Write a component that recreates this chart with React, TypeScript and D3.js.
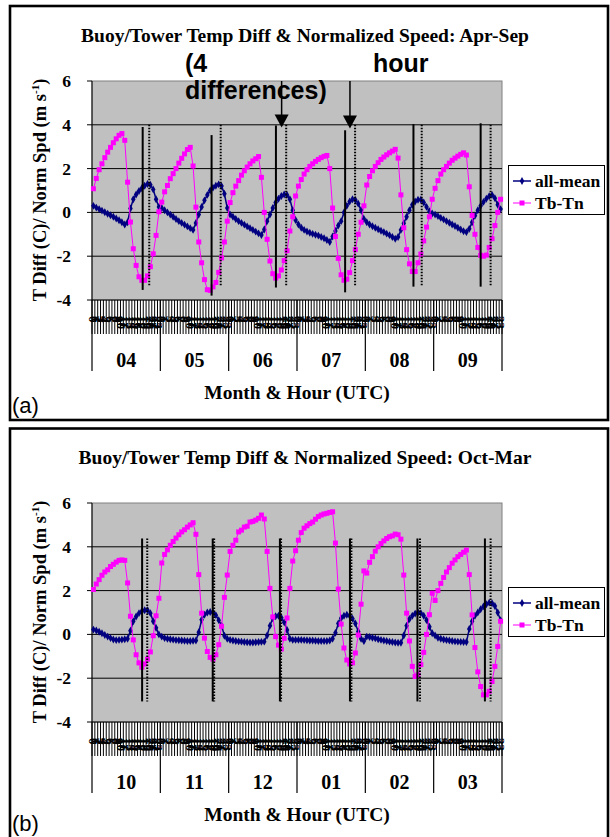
import React, { useEffect, useRef } from 'react';
import * as d3 from 'd3';

const hours = d3.range(24);
const monthsA = ['04', '05', '06', '07', '08', '09'];
const monthsB = ['10', '11', '12', '01', '02', '03'];
const yTicks = [-4, -2, 0, 2, 4, 6];

// all-mean (normalized speed), 24 hourly values per month
const meanA = [
  0.3, 0.22, 0.15, 0.08, 0.01, -0.06, -0.13, -0.2, -0.28, -0.36, -0.45, -0.55, -0.45, 0.18, 0.6, 0.82, 0.98, 1.1, 1.22, 1.3, 1.26, 1.05, 0.6, 0.25,
  0.2, 0.1, 0.0, -0.1, -0.2, -0.3, -0.4, -0.48, -0.56, -0.64, -0.72, -0.8, -0.48, -0.1, 0.25, 0.55, 0.8, 1.0, 1.13, 1.22, 1.28, 1.2, 0.85, 0.2,
  -0.1, -0.2, -0.3, -0.4, -0.48, -0.56, -0.64, -0.72, -0.8, -0.88, -0.96, -1.03, -0.78, -0.4, -0.1, 0.2, 0.45, 0.62, 0.75, 0.82, 0.8, 0.6, 0.1, -0.35,
  -0.55, -0.7, -0.8, -0.87, -0.93, -0.98, -1.02, -1.06, -1.12, -1.18, -1.26, -1.35, -1.1, -0.85, -0.6, -0.4, 0.0, 0.3, 0.5, 0.6, 0.57, 0.4, 0.1, -0.3,
  -0.45, -0.55, -0.63, -0.7, -0.77, -0.84, -0.9, -0.97, -1.04, -1.12, -1.2, -1.12, -0.8, -0.5, -0.2, 0.1, 0.35, 0.5, 0.58, 0.58, 0.45, 0.25, 0.05, -0.05,
  -0.1, -0.17, -0.25, -0.32, -0.4, -0.47, -0.55, -0.62, -0.7, -0.78, -0.86, -0.9, -0.75, -0.45, -0.15, 0.1, 0.3, 0.48, 0.62, 0.74, 0.8, 0.65, 0.35, 0.15,
];

// Tb-Tn (buoy minus tower temp), Apr-Sep
const diffA = [
  1.08, 1.55, 1.95, 2.22, 2.5, 2.75, 2.97, 3.18, 3.36, 3.52, 3.6, 3.29, 1.38, -0.44, -1.66, -2.42, -2.94, -3.1, -3.1, -2.9, -2.48, -1.89, -1.05, 0.03,
  0.47, 0.94, 1.23, 1.54, 1.77, 2.0, 2.25, 2.47, 2.67, 2.87, 2.97, 2.12, 0.24, -1.35, -2.3, -3.07, -3.53, -3.56, -3.4, -3.2, -2.74, -2.08, -1.35, -0.4,
  0.45, 0.9, 1.2, 1.45, 1.7, 1.9, 2.07, 2.22, 2.35, 2.45, 2.55, 1.6, 0.0, -1.23, -2.22, -2.8, -3.0, -2.9, -2.63, -2.2, -1.75, -0.85, -0.2, 0.75,
  1.2, 1.5, 1.75, 1.95, 2.1, 2.22, 2.33, 2.42, 2.5, 2.56, 2.6, 2.0, 0.2, -1.1, -2.1, -2.85, -3.1, -3.05, -2.75, -2.2, -1.7, -1.0, -0.45, 0.3,
  1.25, 1.64, 1.9, 2.1, 2.27, 2.42, 2.53, 2.63, 2.72, 2.8, 2.88, 2.48, 0.8, -0.7, -1.7, -2.35, -2.7, -2.7, -2.3, -1.9, -1.3, -0.67, -0.2, 0.6,
  1.1, 1.45, 1.75, 1.95, 2.1, 2.25, 2.38, 2.48, 2.57, 2.65, 2.72, 2.62, 1.17, -0.14, -1.0, -1.6, -1.96, -2.0, -1.95, -1.6, -1.2, -0.6, 0.0, 0.6,
];

const meanB = [
  0.22, 0.18, 0.12, 0.05, -0.03, -0.1, -0.17, -0.23, -0.26, -0.25, -0.24, -0.22, -0.2, 0.17, 0.6, 0.82, 0.97, 1.06, 1.1, 1.1, 0.97, 0.6, 0.3, 0.0,
  -0.1, -0.17, -0.2, -0.22, -0.24, -0.26, -0.27, -0.28, -0.29, -0.3, -0.3, -0.29, -0.28, 0.1, 0.67, 0.9, 1.0, 1.02, 1.0, 0.88, 0.65, 0.4, -0.06, -0.2,
  -0.25, -0.28, -0.3, -0.32, -0.33, -0.35, -0.36, -0.37, -0.37, -0.36, -0.35, -0.34, -0.33, -0.05, 0.4, 0.74, 0.83, 0.85, 0.76, 0.55, 0.2, -0.2, -0.25, -0.25,
  -0.25, -0.25, -0.26, -0.27, -0.28, -0.28, -0.29, -0.3, -0.3, -0.3, -0.3, -0.28, -0.2, 0.07, 0.5, 0.74, 0.85, 0.9, 0.85, 0.72, 0.5, 0.13, -0.2, -0.3,
  -0.1, -0.12, -0.15, -0.18, -0.22, -0.25, -0.28, -0.3, -0.33, -0.35, -0.37, -0.38, -0.38, -0.05, 0.4, 0.7, 0.85, 0.95, 1.0, 0.97, 0.85, 0.65, 0.35, 0.05,
  -0.05, -0.15, -0.2, -0.23, -0.26, -0.28, -0.3, -0.32, -0.33, -0.34, -0.35, -0.35, 0.25, 0.6, 0.85, 1.0, 1.15, 1.28, 1.38, 1.45, 1.42, 1.3, 1.0, 0.65,
];

const diffB = [
  2.05, 2.3, 2.5, 2.7, 2.85, 2.95, 3.1, 3.2, 3.3, 3.38, 3.4, 3.38, 2.35, 0.83, -0.25, -0.93, -1.3, -1.5, -1.35, -1.13, -0.8, -0.06, 0.85, 1.65,
  3.26, 3.65, 3.86, 4.07, 4.24, 4.4, 4.55, 4.68, 4.78, 4.9, 5.0, 5.1, 4.57, 2.73, 0.97, -0.17, -0.78, -1.05, -1.13, -0.93, -0.47, 0.37, 1.69, 2.71,
  3.79, 4.07, 4.3, 4.68, 4.76, 4.9, 4.94, 5.13, 5.16, 5.22, 5.3, 5.45, 5.27, 3.79, 2.1, 0.8, -0.1, -0.49, -0.67, -0.18, 0.75, 2.1, 3.35, 3.82,
  4.3, 4.65, 4.85, 4.96, 5.06, 5.13, 5.26, 5.38, 5.45, 5.5, 5.53, 5.57, 5.6, 4.17, 2.07, 0.47, -0.62, -1.17, -1.35, -1.3, -0.85, -0.03, 1.38, 2.9,
  2.8, 3.29, 3.55, 3.8, 4.0, 4.15, 4.27, 4.38, 4.46, 4.5, 4.58, 4.55, 4.35, 2.71, 0.97, -0.3, -1.46, -1.92, -1.85, -1.38, -0.82, 0.0, 0.9, 1.88,
  1.55, 2.0, 2.33, 2.6, 2.85, 3.05, 3.25, 3.4, 3.55, 3.65, 3.75, 3.85, 2.73, 0.89, -0.6, -1.71, -2.38, -2.76, -2.76, -2.6, -2.15, -1.46, -0.55, 0.6,
];

// hand-drawn marker lines (position in category units, y range in data units)
const solidA = [
  { pos: 17.8, top: 3.9, bot: -3.54 }, { pos: 42.0, top: 3.53, bot: -3.8 }, { pos: 64.6, top: 3.97, bot: -3.43 },
  { pos: 88.9, top: 3.75, bot: -3.65 }, { pos: 112.9, top: 4.03, bot: -3.39 }, { pos: 136.5, top: 4.07, bot: -3.39 },
];
const dottedA = [
  { pos: 20.1, top: 4.0, bot: -3.38 }, { pos: 45.2, top: 4.0, bot: -3.38 }, { pos: 68.2, top: 4.0, bot: -3.38 },
  { pos: 92.4, top: 4.0, bot: -3.38 }, { pos: 115.8, top: 4.0, bot: -3.38 }, { pos: 140.0, top: 4.0, bot: -3.38 },
];
const solidB = [
  { pos: 17.6, top: 4.38, bot: -3.06 }, { pos: 42.4, top: 4.38, bot: -3.06 }, { pos: 66.0, top: 4.38, bot: -3.06 },
  { pos: 90.6, top: 4.38, bot: -3.06 }, { pos: 114.3, top: 4.38, bot: -3.06 }, { pos: 138.0, top: 4.38, bot: -3.06 },
];
const dottedB = [
  { pos: 19.4, top: 4.38, bot: -3.06 }, { pos: 42.9, top: 4.38, bot: -3.06 }, { pos: 66.4, top: 4.38, bot: -3.06 },
  { pos: 91.1, top: 4.38, bot: -3.06 }, { pos: 115.2, top: 4.38, bot: -3.06 }, { pos: 140.0, top: 4.38, bot: -3.06 },
];
const arrowsA = [{ pos: 66.6, tip: 3.88 }, { pos: 90.6, tip: 3.83 }];

const SERIF = '"Liberation Serif", "Times New Roman", serif';
const SANS = '"Liberation Sans", Arial, sans-serif';
const NAVY = '#000080';
const MAGENTA = '#ff00ff';

function drawPanel(svg, o) {
  const g = svg.append('g').attr('transform', `translate(0,${o.dy})`);
  const n = o.months.length * 24;
  const x = d3.scaleLinear().domain([0, n]).range([92, 502]);
  const y = d3.scaleLinear().domain([-4, 6]).range([300, 81]);

  // frame
  g.append('rect').attr('x', 10).attr('y', o.frameTop).attr('width', 598).attr('height', o.frameH)
    .attr('fill', 'white').attr('stroke', 'black').attr('stroke-width', 2.6);

  g.append('text').attr('x', 305).attr('y', 42).attr('text-anchor', 'middle')
    .style('font-family', SERIF).style('font-weight', 'bold').style('font-size', '19.5px')
    .text(o.title);

  g.append('rect').attr('x', 92).attr('y', y(6)).attr('width', 410).attr('height', y(-4) - y(6))
    .attr('fill', '#c0c0c0').attr('stroke', '#808080').attr('stroke-width', 1);

  g.selectAll('.grid').data(yTicks.filter(t => t > -4 && t < 6)).enter().append('line')
    .attr('x1', 92).attr('x2', 502).attr('y1', d => y(d)).attr('y2', d => y(d))
    .attr('stroke', 'black').attr('stroke-width', 1);

  // y axis
  g.append('line').attr('x1', 92).attr('x2', 92).attr('y1', y(6)).attr('y2', y(-4)).attr('stroke', 'black');
  g.selectAll('.ytick').data(yTicks).enter().append('line')
    .attr('x1', 87).attr('x2', 92).attr('y1', d => y(d)).attr('y2', d => y(d)).attr('stroke', 'black');
  g.selectAll('.ylab').data(yTicks).enter().append('text')
    .attr('x', 71).attr('y', d => y(d) + 6).attr('text-anchor', 'end')
    .style('font-family', SERIF).style('font-weight', 'bold').style('font-size', '17.5px')
    .text(d => d);

  const yl = g.append('text').attr('transform', 'translate(46,190) rotate(-90)').attr('text-anchor', 'middle')
    .style('font-family', SERIF).style('font-weight', 'bold').style('font-size', '18.5px');
  yl.append('tspan').text('T Diff (C)/ Norm Spd (m s');
  yl.append('tspan').attr('dy', -7).style('font-size', '11px').text('-1');
  yl.append('tspan').attr('dy', 7).text(')');

  // x axis: category ticks + hour labels
  g.append('line').attr('x1', 92).attr('x2', 502).attr('y1', 300).attr('y2', 300).attr('stroke', 'black');
  g.selectAll('.ctick').data(d3.range(n + 1)).enter().append('line')
    .attr('x1', d => x(d)).attr('x2', d => x(d)).attr('y1', 300).attr('y2', 334)
    .attr('stroke', 'black').attr('stroke-width', 1);
  g.selectAll('.hlab').data(d3.range(n)).enter().append('text')
    .attr('transform', d => `translate(${x(d + 0.5)},316) rotate(90)`)
    .attr('dominant-baseline', 'central')
    .style('font-family', SERIF).style('font-weight', 'bold').style('font-size', '13px')
    .text(d => hours[d % 24]);

  g.selectAll('.msep').data(d3.range(o.months.length + 1)).enter().append('line')
    .attr('x1', d => x(d * 24)).attr('x2', d => x(d * 24)).attr('y1', 300).attr('y2', 371)
    .attr('stroke', 'black').attr('stroke-width', 1.2);
  g.selectAll('.mlab').data(o.months).enter().append('text')
    .attr('x', (d, i) => x(i * 24 + 12)).attr('y', 367).attr('text-anchor', 'middle')
    .style('font-family', SERIF).style('font-weight', 'bold').style('font-size', '20px')
    .text(d => d);
  g.append('text').attr('x', 297).attr('y', 399).attr('text-anchor', 'middle')
    .style('font-family', SERIF).style('font-weight', 'bold').style('font-size', '19.5px')
    .text('Month & Hour (UTC)');

  // series
  const line = d3.line().x((d, i) => x(i + 0.5)).y(d => y(d));
  g.append('path').datum(o.mean).attr('d', line).attr('fill', 'none').attr('stroke', NAVY).attr('stroke-width', 1.5);
  g.selectAll('.dia').data(o.mean).enter().append('path')
    .attr('d', d3.symbol(d3.symbolDiamond, 18))
    .attr('transform', (d, i) => `translate(${x(i + 0.5)},${y(d)})`).attr('fill', NAVY);
  g.append('path').datum(o.diff).attr('d', line).attr('fill', 'none').attr('stroke', MAGENTA).attr('stroke-width', 1);
  g.selectAll('.sq').data(o.diff).enter().append('rect')
    .attr('x', (d, i) => x(i + 0.5) - 2.5).attr('y', d => y(d) - 2.5).attr('width', 5).attr('height', 5)
    .attr('fill', MAGENTA);

  // vertical marker lines
  g.selectAll('.solid').data(o.solid).enter().append('line')
    .attr('x1', d => x(d.pos)).attr('x2', d => x(d.pos)).attr('y1', d => y(d.top)).attr('y2', d => y(d.bot))
    .attr('stroke', 'black').attr('stroke-width', 2);
  g.selectAll('.dot').data(o.dotted).enter().append('line')
    .attr('x1', d => x(d.pos)).attr('x2', d => x(d.pos)).attr('y1', d => y(d.top)).attr('y2', d => y(d.bot))
    .attr('stroke', 'black').attr('stroke-width', 2).attr('stroke-dasharray', '1.5,1.5');

  // arrows
  (o.arrows || []).forEach(a => {
    const ax = x(a.pos), tip = y(a.tip);
    g.append('line').attr('x1', ax).attr('x2', ax).attr('y1', y(6)).attr('y2', tip - 10).attr('stroke', 'black').attr('stroke-width', 1.5);
    g.append('path').attr('d', `M${ax - 7},${tip - 13}L${ax + 7},${tip - 13}L${ax},${tip}Z`).attr('fill', 'black');
  });

  // legend
  const lg = g.append('g');
  lg.append('rect').attr('x', 508.5).attr('y', 165.5).attr('width', 96).attr('height', 49)
    .attr('fill', 'white').attr('stroke', 'black').attr('stroke-width', 1);
  [{ name: 'all-mean', color: NAVY, sym: 'dia' }, { name: 'Tb-Tn', color: MAGENTA, sym: 'sq' }].forEach((s, i) => {
    const ly = 181 + i * 22;
    lg.append('line').attr('x1', 513).attr('x2', 531).attr('y1', ly).attr('y2', ly).attr('stroke', s.color).attr('stroke-width', s.sym === 'dia' ? 1.5 : 1);
    if (s.sym === 'dia') {
      lg.append('path').attr('d', d3.symbol(d3.symbolDiamond, 18)).attr('transform', `translate(522,${ly})`).attr('fill', s.color);
    } else {
      lg.append('rect').attr('x', 519.5).attr('y', ly - 2.5).attr('width', 5).attr('height', 5).attr('fill', s.color);
    }
    lg.append('text').attr('x', 535).attr('y', ly + 5.5)
      .style('font-family', SERIF).style('font-weight', 'bold').style('font-size', '17.5px').text(s.name);
  });

  g.append('text').attr('x', 12).attr('y', o.tagY)
    .style('font-family', SANS).style('font-size', '22px').text(o.tag);
  return g;
}

const App = () => {
  const svgRef = useRef(null);

  useEffect(() => {
    const svg = d3.select(svgRef.current);
    svg.selectAll('*').remove();
    svg.append('rect').attr('width', 610).attr('height', 837).attr('fill', 'white');

    const ga = drawPanel(svg, {
      dy: 0, frameTop: 6, frameH: 414, title: 'Buoy/Tower Temp Diff & Normalized Speed: Apr-Sep',
      months: monthsA, mean: meanA, diff: diffA, solid: solidA, dotted: dottedA, arrows: arrowsA, tag: '(a)', tagY: 413,
    });
    drawPanel(svg, {
      dy: 422, frameTop: 6.5, frameH: 430, title: 'Buoy/Tower Temp Diff & Normalized Speed: Oct-Mar',
      months: monthsB, mean: meanB, diff: diffB, solid: solidB, dotted: dottedB, arrows: [], tag: '(b)', tagY: 409,
    });

    // floating annotation text in panel (a)
    const note = ga.append('g').style('font-family', SANS).style('font-weight', 'bold').style('font-size', '25px');
    note.append('text').attr('x', 185).attr('y', 72).text('(4');
    note.append('text').attr('x', 185).attr('y', 99).text('differences)');
    note.append('text').attr('x', 373).attr('y', 72).text('hour');
  }, []);

  return (
    <svg ref={svgRef} width={610} height={837}
      style={{ position: 'absolute', left: 0, top: 0, display: 'block' }} />
  );
};

export default App;
